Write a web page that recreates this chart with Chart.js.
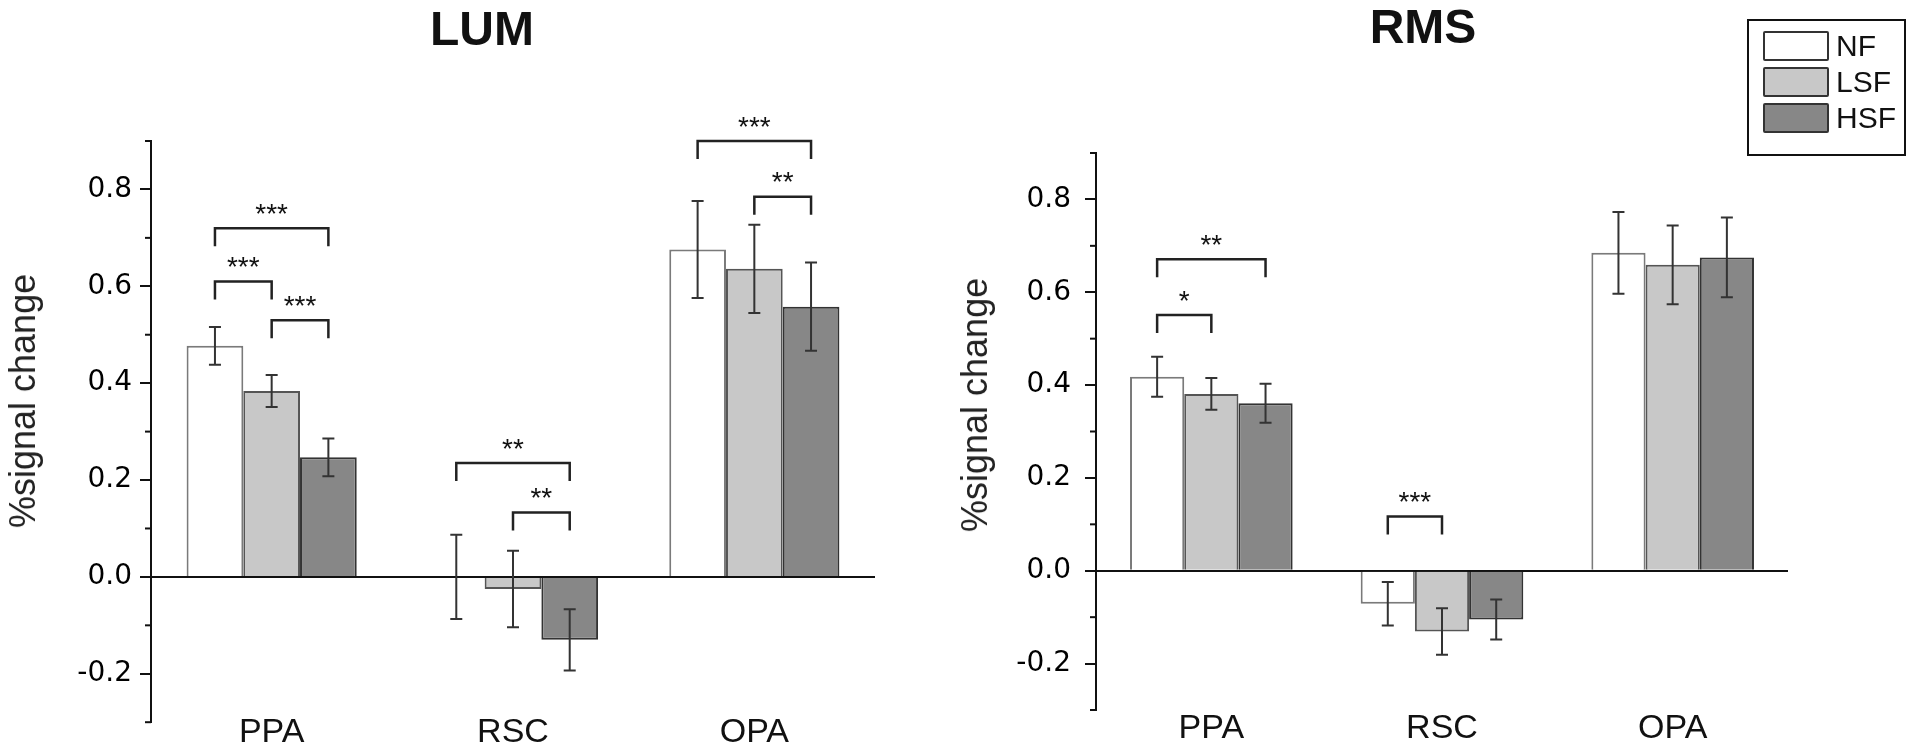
<!DOCTYPE html>
<html lang="en">
<head>
  <meta charset="UTF-8">
  <title>LUM / RMS - %signal change</title>
  <style>
    body {
      margin: 0;
      background: #fff;
      font-family: "Liberation Sans", Arial, sans-serif;
    }
    #wrap { position: relative; width: 1908px; height: 747px; overflow: hidden; }
    canvas { position: absolute; top: 0; }
    #lumChart { left: 0; }
    #rmsChart { left: 900px; }
    .title {
      position: absolute;
      font-weight: bold;
      font-size: 48px;
      line-height: 48px;
      color: #111;
      transform: translate(-50%, -50%);
    }
    .ytitle {
      position: absolute;
      font-size: 36px;
      line-height: 36px;
      color: #222;
      white-space: nowrap;
      transform: translate(-50%, -50%) rotate(-90deg);
    }
    #legend {
      position: absolute;
      left: 1747px;
      top: 19px;
      width: 155px;
      height: 123px;
      border: 2px solid #111;
      padding-top: 10px;
      box-sizing: content-box;
    }
    .item { height: 36px; display: flex; align-items: flex-start; }
    .swatch {
      width: 62px;
      height: 26px;
      margin-left: 14px;
      border: 2px solid #333;
      border-radius: 2px;
    }
    .item span { font-size: 30px; line-height: 30px; margin-left: 7px; color: #111; }
  </style>
  <script src="https://cdn.jsdelivr.net/npm/chart.js"></script>
</head>
<body>
  <div id="wrap">
    <canvas id="lumChart" width="900" height="747"></canvas>
    <canvas id="rmsChart" width="900" height="747"></canvas>
    <div class="title" style="left:482px; top:29px;">LUM</div>
    <div class="title" style="left:1423px; top:27px;">RMS</div>
    <div class="ytitle" style="left:23px; top:401px;">%signal change</div>
    <div class="ytitle" style="left:975px; top:405px;">%signal change</div>
    <div id="legend"></div>
  </div>

  <script>
    // data
    var categories = ['PPA', 'RSC', 'OPA'];
    var seriesNames = ['NF', 'LSF', 'HSF'];

    var lumNF  = [0.477,  0.000, 0.676];
    var lumLSF = [0.384, -0.025, 0.636];
    var lumHSF = [0.247, -0.130, 0.558];
    var lumErrNF  = [0.039, 0.087, 0.100];
    var lumErrLSF = [0.033, 0.079, 0.091];
    var lumErrHSF = [0.039, 0.063, 0.091];

    var rmsNF  = [0.418, -0.071, 0.685];
    var rmsLSF = [0.381, -0.131, 0.659];
    var rmsHSF = [0.361, -0.105, 0.675];
    var rmsErrNF  = [0.043, 0.047, 0.088];
    var rmsErrLSF = [0.034, 0.050, 0.085];
    var rmsErrHSF = [0.042, 0.043, 0.086];

    var yTickValues = [-0.3, -0.2, -0.1, 0, 0.1, 0.2, 0.3, 0.4, 0.5, 0.6, 0.7, 0.8, 0.9];
    var yTickLabels = ['-0.2', '0.0', '0.2', '0.4', '0.6', '0.8'];

    // significance: [category, from series, to series, bracket level, stars]
    var lumSig = [
      [0, 0, 2, 0.720, '***'],
      [0, 0, 1, 0.610, '***'],
      [0, 1, 2, 0.530, '***'],
      [1, 0, 2, 0.235, '**'],
      [1, 1, 2, 0.133, '**'],
      [2, 0, 2, 0.900, '***'],
      [2, 1, 2, 0.785, '**']
    ];
    var rmsSig = [
      [0, 0, 2, 0.671, '**'],
      [0, 0, 1, 0.551, '*'],
      [1, 0, 1, 0.117, '***']
    ];

    var fills = ['#ffffff', '#c8c8c8', '#878787'];
    var borders = ['#7a7a7a', '#555555', '#333333'];

    // legend built from the series
    var legend = document.getElementById('legend');
    seriesNames.forEach(function (name, i) {
      var row = document.createElement('div');
      row.className = 'item';
      var sw = document.createElement('div');
      sw.className = 'swatch';
      sw.style.background = fills[i];
      var txt = document.createElement('span');
      txt.textContent = name;
      row.appendChild(sw);
      row.appendChild(txt);
      legend.appendChild(row);
    });

    function labelFor(v) {
      var s = (Math.round(v * 10) / 10).toFixed(1);
      return yTickLabels.indexOf(s) >= 0 ? s : '';
    }

    var errorBars = {
      id: 'errorBars',
      afterDatasetsDraw: function (chart) {
        var ctx = chart.ctx, y = chart.scales.y;
        ctx.save();
        ctx.strokeStyle = '#333';
        ctx.lineWidth = 2;
        chart.data.datasets.forEach(function (ds, i) {
          chart.getDatasetMeta(i).data.forEach(function (bar, j) {
            var top = y.getPixelForValue(ds.data[j] + ds.errors[j]);
            var bot = y.getPixelForValue(ds.data[j] - ds.errors[j]);
            ctx.beginPath();
            ctx.moveTo(bar.x, top); ctx.lineTo(bar.x, bot);
            ctx.moveTo(bar.x - 6, top); ctx.lineTo(bar.x + 6, top);
            ctx.moveTo(bar.x - 6, bot); ctx.lineTo(bar.x + 6, bot);
            ctx.stroke();
          });
        });
        ctx.restore();
      }
    };

    // short minor ticks + significance brackets
    var extras = {
      id: 'extras',
      afterDraw: function (chart, args, opts) {
        var ctx = chart.ctx, y = chart.scales.y;
        ctx.save();
        ctx.strokeStyle = '#111';
        ctx.lineWidth = 2;
        yTickValues.forEach(function (v) {
          if (labelFor(v) !== '') return;
          var py = y.getPixelForValue(v);
          ctx.beginPath();
          ctx.moveTo(y.right - 6, py);
          ctx.lineTo(y.right, py);
          ctx.stroke();
        });

        ctx.strokeStyle = '#222';
        ctx.lineWidth = 2.5;
        ctx.fillStyle = '#111';
        ctx.font = '28px "Liberation Sans", Arial, sans-serif';
        ctx.textAlign = 'center';
        ctx.textBaseline = 'middle';
        (opts.items || []).forEach(function (s) {
          var x1 = chart.getDatasetMeta(s[1]).data[s[0]].x;
          var x2 = chart.getDatasetMeta(s[2]).data[s[0]].x;
          var py = y.getPixelForValue(s[3]);
          ctx.beginPath();
          ctx.moveTo(x1, py + 18);
          ctx.lineTo(x1, py);
          ctx.lineTo(x2, py);
          ctx.lineTo(x2, py + 18);
          ctx.stroke();
          ctx.fillText(s[4], (x1 + x2) / 2, py - 13);
        });
        ctx.restore();
      }
    };

    function makeChart(id, nf, lsf, hsf, enf, elsf, ehsf, sig, geo) {
      var sets = [nf, lsf, hsf].map(function (d, i) {
        return {
          label: seriesNames[i],
          data: d,
          errors: [enf, elsf, ehsf][i],
          backgroundColor: fills[i],
          borderColor: borders[i],
          borderWidth: 2,
          categoryPercentage: 0.705,
          barPercentage: 1.0
        };
      });
      return new Chart(document.getElementById(id), {
        type: 'bar',
        data: { labels: categories, datasets: sets },
        plugins: [errorBars, extras],
        options: {
          responsive: false,
          animation: false,
          layout: { padding: { top: geo.top, right: geo.right, left: 0, bottom: 0 } },
          plugins: {
            legend: { display: false },
            tooltip: { enabled: false },
            extras: { items: sig }
          },
          scales: {
            x: {
              grid: { display: false, drawTicks: false },
              border: { display: false },
              ticks: {
                mirror: geo.xMirror,
                padding: geo.xPad,
                color: '#111',
                font: { family: '"Liberation Sans", Arial, sans-serif', size: 34 }
              },
              afterFit: function (s) { s.height = geo.xHeight; }
            },
            y: {
              min: -0.3,
              max: 0.9,
              z: 1,
              afterBuildTicks: function (s) {
                s.ticks = yTickValues.map(function (v) { return { value: v }; });
              },
              afterFit: function (s) { s.width = geo.yWidth; },
              border: { display: true, color: '#111', width: 2 },
              grid: {
                lineWidth: 2,
                tickLength: 11,
                color: function (c) {
                  return c.tick && Math.abs(c.tick.value) < 1e-9 ? '#111' : 'rgba(0,0,0,0)';
                },
                tickColor: function (c) {
                  return c.tick && labelFor(c.tick.value) !== '' ? '#111' : 'rgba(0,0,0,0)';
                }
              },
              ticks: {
                padding: geo.yPad,
                color: '#000',
                font: { family: '"DejaVu Sans", Verdana, sans-serif', size: 28 },
                callback: function (v) { return labelFor(v); }
              }
            }
          }
        }
      });
    }

    makeChart('lumChart', lumNF, lumLSF, lumHSF, lumErrNF, lumErrLSF, lumErrHSF, lumSig,
      { top: 141, right: 25, yWidth: 151, xHeight: 18, xMirror: true, xPad: -31, yPad: 8 });
    makeChart('rmsChart', rmsNF, rmsLSF, rmsHSF, rmsErrNF, rmsErrLSF, rmsErrHSF, rmsSig,
      { top: 153, right: 12, yWidth: 196, xHeight: 37, xMirror: false, xPad: -2, yPad: 14 });
  </script>
</body>
</html>
